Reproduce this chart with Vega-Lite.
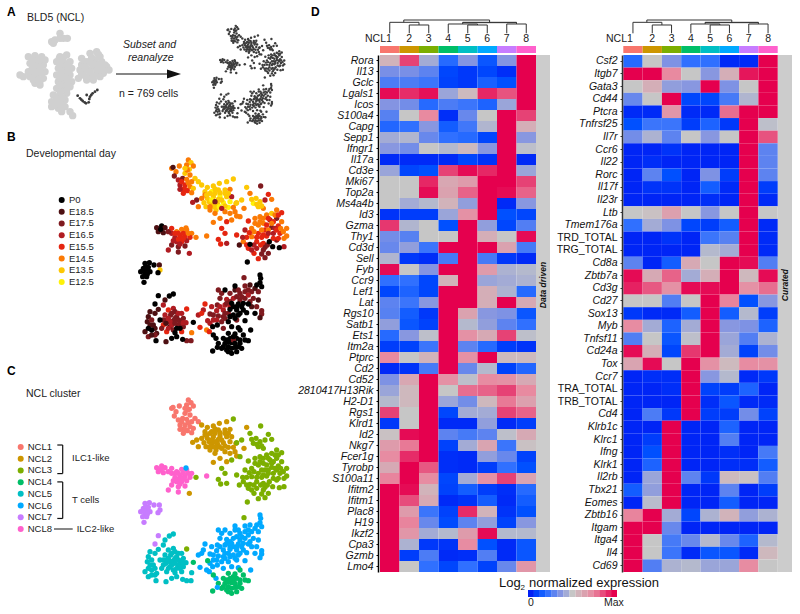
{"$schema":"https://vega.github.io/schema/vega-lite/v6.json","width":800,"height":614,"padding":0,"autosize":{"type":"none"},"background":"white","config":{"font":"Liberation Sans","view":{"stroke":null},"text":{"color":"#222"}},
"datasets":{
"bg":[{"x":125,"y":50,"k":"g"},{"x":135,"y":45,"k":"g"},{"x":150,"y":25,"k":"g"},{"x":150,"y":40,"k":"g"},{"x":160,"y":40,"k":"g"},{"x":172,"y":40,"k":"g"},{"x":130,"y":55,"k":"g"},{"x":30,"y":150,"k":"g"},{"x":40,"y":155,"k":"g"},{"x":55,"y":95,"k":"g"},{"x":75,"y":92,"k":"g"},{"x":95,"y":95,"k":"g"},{"x":105,"y":105,"k":"g"},{"x":60,"y":115,"k":"g"},{"x":80,"y":115,"k":"g"},{"x":100,"y":120,"k":"g"},{"x":65,"y":135,"k":"g"},{"x":85,"y":135,"k":"g"},{"x":105,"y":140,"k":"g"},{"x":60,"y":155,"k":"g"},{"x":80,"y":155,"k":"g"},{"x":100,"y":160,"k":"g"},{"x":75,"y":175,"k":"g"},{"x":90,"y":180,"k":"g"},{"x":55,"y":140,"k":"g"},{"x":150,"y":95,"k":"g"},{"x":170,"y":90,"k":"g"},{"x":140,"y":110,"k":"g"},{"x":160,"y":110,"k":"g"},{"x":180,"y":110,"k":"g"},{"x":145,"y":130,"k":"g"},{"x":165,"y":130,"k":"g"},{"x":185,"y":130,"k":"g"},{"x":140,"y":150,"k":"g"},{"x":160,"y":150,"k":"g"},{"x":180,"y":150,"k":"g"},{"x":145,"y":170,"k":"g"},{"x":165,"y":170,"k":"g"},{"x":185,"y":170,"k":"g"},{"x":140,"y":190,"k":"g"},{"x":160,"y":190,"k":"g"},{"x":180,"y":185,"k":"g"},{"x":130,"y":210,"k":"g"},{"x":150,"y":210,"k":"g"},{"x":170,"y":205,"k":"g"},{"x":125,"y":230,"k":"g"},{"x":145,"y":230,"k":"g"},{"x":165,"y":225,"k":"g"},{"x":125,"y":245,"k":"g"},{"x":145,"y":250,"k":"g"},{"x":165,"y":245,"k":"g"},{"x":155,"y":260,"k":"g"},{"x":180,"y":260,"k":"g"},{"x":188,"y":272,"k":"g"},{"x":215,"y":100,"k":"g"},{"x":240,"y":85,"k":"g"},{"x":260,"y":80,"k":"g"},{"x":270,"y":95,"k":"g"},{"x":215,"y":120,"k":"g"},{"x":235,"y":110,"k":"g"},{"x":255,"y":105,"k":"g"},{"x":275,"y":110,"k":"g"},{"x":210,"y":135,"k":"g"},{"x":230,"y":130,"k":"g"},{"x":250,"y":125,"k":"g"},{"x":270,"y":130,"k":"g"},{"x":290,"y":125,"k":"g"},{"x":297,"y":135,"k":"g"},{"x":220,"y":150,"k":"g"},{"x":240,"y":150,"k":"g"},{"x":260,"y":145,"k":"g"},{"x":280,"y":145,"k":"g"},{"x":230,"y":165,"k":"g"},{"x":250,"y":165,"k":"g"},{"x":205,"y":160,"k":"g"},{"x":70,"y":105,"k":"g"},{"x":90,"y":105,"k":"g"},{"x":70,"y":125,"k":"g"},{"x":90,"y":125,"k":"g"},{"x":75,"y":145,"k":"g"},{"x":95,"y":145,"k":"g"},{"x":70,"y":165,"k":"g"},{"x":90,"y":168,"k":"g"},{"x":150,"y":120,"k":"g"},{"x":170,"y":120,"k":"g"},{"x":155,"y":140,"k":"g"},{"x":175,"y":140,"k":"g"},{"x":150,"y":160,"k":"g"},{"x":170,"y":160,"k":"g"},{"x":150,"y":180,"k":"g"},{"x":170,"y":180,"k":"g"},{"x":150,"y":200,"k":"g"},{"x":170,"y":195,"k":"g"},{"x":140,"y":220,"k":"g"},{"x":158,"y":218,"k":"g"},{"x":135,"y":240,"k":"g"},{"x":155,"y":238,"k":"g"},{"x":148,"y":100,"k":"g"},{"x":160,"y":97,"k":"g"},{"x":225,"y":110,"k":"g"},{"x":245,"y":98,"k":"g"},{"x":265,"y":88,"k":"g"},{"x":225,"y":125,"k":"g"},{"x":245,"y":115,"k":"g"},{"x":265,"y":118,"k":"g"},{"x":285,"y":120,"k":"g"},{"x":220,"y":140,"k":"g"},{"x":240,"y":140,"k":"g"},{"x":260,"y":135,"k":"g"},{"x":280,"y":135,"k":"g"},{"x":230,"y":158,"k":"g"},{"x":250,"y":155,"k":"g"},{"x":270,"y":155,"k":"g"},{"x":215,"y":148,"k":"g"},{"x":203,"y":212,"k":"d"},{"x":210,"y":220,"k":"d"},{"x":218,"y":228,"k":"d"},{"x":228,"y":235,"k":"d"},{"x":236,"y":232,"k":"d"},{"x":240,"y":215,"k":"d"},{"x":248,"y":205,"k":"d"},{"x":255,"y":200,"k":"d"},{"x":262,"y":195,"k":"d"},{"x":230,"y":210,"k":"d"},{"x":214,"y":224,"k":"d"},{"x":224,"y":232,"k":"d"},{"x":238,"y":222,"k":"d"},{"x":244,"y":210,"k":"d"}],
"cells":[{"x":175,"y":30,"c":1,"d":"E14.5"},{"x":183,"y":38,"c":1,"d":"E13.5"},{"x":170,"y":45,"c":1,"d":"E14.5"},{"x":190,"y":48,"c":1,"d":"E14.5"},{"x":178,"y":58,"c":1,"d":"E13.5"},{"x":148,"y":48,"c":1,"d":"E14.5"},{"x":125,"y":55,"c":1,"d":"E14.5"},{"x":129,"y":52,"c":1,"d":"E18.5"},{"x":138,"y":65,"c":1,"d":"E14.5"},{"x":165,"y":70,"c":1,"d":"E13.5"},{"x":180,"y":75,"c":1,"d":"E14.5"},{"x":133,"y":78,"c":1,"d":"E17.5"},{"x":195,"y":85,"c":1,"d":"E13.5"},{"x":145,"y":90,"c":1,"d":"E16.5"},{"x":158,"y":85,"c":1,"d":"E17.5"},{"x":170,"y":88,"c":1,"d":"E14.5"},{"x":185,"y":95,"c":1,"d":"E14.5"},{"x":205,"y":95,"c":1,"d":"E13.5"},{"x":150,"y":105,"c":1,"d":"E16.5"},{"x":165,"y":105,"c":1,"d":"E15.5"},{"x":180,"y":110,"c":1,"d":"E14.5"},{"x":158,"y":118,"c":1,"d":"E15.5"},{"x":172,"y":122,"c":1,"d":"E15.5"},{"x":190,"y":115,"c":1,"d":"E13.5"},{"x":160,"y":130,"c":1,"d":"E15.5"},{"x":185,"y":128,"c":1,"d":"E14.5"},{"x":155,"y":95,"c":1,"d":"E15.5"},{"x":175,"y":98,"c":1,"d":"E14.5"},{"x":165,"y":118,"c":1,"d":"E15.5"},{"x":150,"y":118,"c":1,"d":"E16.5"},{"x":172,"y":60,"c":1,"d":"E14.5"},{"x":165,"y":55,"c":1,"d":"E13.5"},{"x":215,"y":105,"c":2,"d":"E13.5"},{"x":232,"y":112,"c":2,"d":"E13.5"},{"x":250,"y":108,"c":2,"d":"E13.5"},{"x":268,"y":100,"c":2,"d":"E13.5"},{"x":290,"y":95,"c":2,"d":"E13.5"},{"x":225,"y":125,"c":2,"d":"E13.5"},{"x":245,"y":125,"c":2,"d":"E12.5"},{"x":265,"y":120,"c":2,"d":"E13.5"},{"x":285,"y":120,"c":2,"d":"E13.5"},{"x":300,"y":118,"c":2,"d":"E14.5"},{"x":200,"y":150,"c":2,"d":"E17.5"},{"x":188,"y":157,"c":2,"d":"E16.5"},{"x":215,"y":145,"c":2,"d":"E14.5"},{"x":232,"y":145,"c":2,"d":"E13.5"},{"x":250,"y":140,"c":2,"d":"E13.5"},{"x":270,"y":138,"c":2,"d":"E12.5"},{"x":290,"y":140,"c":2,"d":"E13.5"},{"x":305,"y":140,"c":2,"d":"E16.5"},{"x":205,"y":170,"c":2,"d":"E14.5"},{"x":228,"y":170,"c":2,"d":"E13.5"},{"x":245,"y":160,"c":2,"d":"E13.5"},{"x":262,"y":160,"c":2,"d":"E13.5"},{"x":280,"y":158,"c":2,"d":"E12.5"},{"x":300,"y":155,"c":2,"d":"E12.5"},{"x":318,"y":160,"c":2,"d":"E13.5"},{"x":240,"y":180,"c":2,"d":"E14.5"},{"x":258,"y":180,"c":2,"d":"E13.5"},{"x":295,"y":172,"c":2,"d":"E12.5"},{"x":315,"y":185,"c":2,"d":"E14.5"},{"x":255,"y":190,"c":2,"d":"E14.5"},{"x":270,"y":205,"c":2,"d":"E14.5"},{"x":290,"y":215,"c":2,"d":"E15.5"},{"x":250,"y":217,"c":2,"d":"E14.5"},{"x":320,"y":198,"c":2,"d":"E14.5"},{"x":342,"y":175,"c":2,"d":"E14.5"},{"x":350,"y":112,"c":2,"d":"E13.5"},{"x":300,"y":190,"c":2,"d":"E14.5"},{"x":240,"y":130,"c":2,"d":"E13.5"},{"x":275,"y":150,"c":2,"d":"E13.5"},{"x":258,"y":170,"c":2,"d":"E13.5"},{"x":238,"y":155,"c":2,"d":"E13.5"},{"x":285,"y":130,"c":2,"d":"E13.5"},{"x":225,"y":135,"c":2,"d":"E14.5"},{"x":255,"y":130,"c":2,"d":"E13.5"},{"x":270,"y":128,"c":2,"d":"E13.5"},{"x":295,"y":130,"c":2,"d":"E13.5"},{"x":222,"y":158,"c":2,"d":"E13.5"},{"x":250,"y":170,"c":2,"d":"E13.5"},{"x":268,"y":170,"c":2,"d":"E12.5"},{"x":285,"y":168,"c":2,"d":"E13.5"},{"x":265,"y":148,"c":2,"d":"E13.5"},{"x":240,"y":170,"c":2,"d":"E14.5"},{"x":285,"y":185,"c":2,"d":"E14.5"},{"x":310,"y":172,"c":2,"d":"E14.5"},{"x":255,"y":117,"c":2,"d":"E13.5"},{"x":245,"y":150,"c":2,"d":"E12.5"},{"x":230,"y":135,"c":2,"d":"E13.5"},{"x":255,"y":155,"c":2,"d":"E17.5"},{"x":275,"y":175,"c":2,"d":"E16.5"},{"x":310,"y":87,"c":3,"d":"E13.5"},{"x":392,"y":108,"c":3,"d":"E17.5"},{"x":360,"y":130,"c":3,"d":"E14.5"},{"x":378,"y":145,"c":3,"d":"E13.5"},{"x":370,"y":160,"c":3,"d":"E12.5"},{"x":390,"y":155,"c":3,"d":"E13.5"},{"x":405,"y":150,"c":3,"d":"E16.5"},{"x":425,"y":148,"c":3,"d":"E14.5"},{"x":385,"y":170,"c":3,"d":"E13.5"},{"x":400,"y":175,"c":3,"d":"E14.5"},{"x":415,"y":133,"c":3,"d":"E15.5"},{"x":335,"y":150,"c":3,"d":"E13.5"},{"x":320,"y":158,"c":3,"d":"E13.5"},{"x":330,"y":200,"c":3,"d":"E14.5"},{"x":355,"y":213,"c":3,"d":"E15.5"},{"x":305,"y":210,"c":3,"d":"E14.5"},{"x":275,"y":235,"c":3,"d":"E15.5"},{"x":285,"y":250,"c":3,"d":"E15.5"},{"x":265,"y":268,"c":3,"d":"E15.5"},{"x":272,"y":282,"c":3,"d":"E15.5"},{"x":290,"y":280,"c":3,"d":"E16.5"},{"x":320,"y":255,"c":3,"d":"E15.5"},{"x":345,"y":240,"c":3,"d":"E16.5"},{"x":365,"y":235,"c":3,"d":"E14.5"},{"x":375,"y":205,"c":3,"d":"E14.5"},{"x":390,"y":200,"c":3,"d":"E14.5"},{"x":410,"y":195,"c":3,"d":"E14.5"},{"x":425,"y":190,"c":3,"d":"E13.5"},{"x":440,"y":180,"c":3,"d":"E14.5"},{"x":455,"y":188,"c":3,"d":"E15.5"},{"x":385,"y":225,"c":3,"d":"E14.5"},{"x":400,"y":220,"c":3,"d":"E14.5"},{"x":420,"y":210,"c":3,"d":"E16.5"},{"x":440,"y":205,"c":3,"d":"E17.5"},{"x":455,"y":215,"c":3,"d":"E14.5"},{"x":405,"y":240,"c":3,"d":"E15.5"},{"x":425,"y":232,"c":3,"d":"E17.5"},{"x":445,"y":228,"c":3,"d":"E15.5"},{"x":470,"y":235,"c":3,"d":"E14.5"},{"x":350,"y":262,"c":3,"d":"E15.5"},{"x":365,"y":260,"c":3,"d":"E14.5"},{"x":385,"y":250,"c":3,"d":"E15.5"},{"x":410,"y":258,"c":3,"d":"E15.5"},{"x":430,"y":250,"c":3,"d":"E16.5"},{"x":450,"y":250,"c":3,"d":"E15.5"},{"x":470,"y":258,"c":3,"d":"E14.5"},{"x":340,"y":275,"c":3,"d":"E14.5"},{"x":380,"y":275,"c":3,"d":"E15.5"},{"x":400,"y":280,"c":3,"d":"E15.5"},{"x":440,"y":270,"c":3,"d":"E17.5"},{"x":462,"y":265,"c":3,"d":"E14.5"},{"x":328,"y":285,"c":3,"d":"E18.5"},{"x":355,"y":295,"c":3,"d":"E15.5"},{"x":380,"y":295,"c":3,"d":"E16.5"},{"x":405,"y":292,"c":3,"d":"E17.5"},{"x":462,"y":290,"c":3,"d":"E16.5"},{"x":372,"y":310,"c":3,"d":"E15.5"},{"x":395,"y":312,"c":3,"d":"E17.5"},{"x":415,"y":310,"c":3,"d":"E17.5"},{"x":385,"y":326,"c":3,"d":"E15.5"},{"x":405,"y":323,"c":3,"d":"E17.5"},{"x":400,"y":205,"c":3,"d":"E14.5"},{"x":430,"y":215,"c":3,"d":"E15.5"},{"x":415,"y":240,"c":3,"d":"E14.5"},{"x":395,"y":262,"c":3,"d":"E15.5"},{"x":435,"y":235,"c":3,"d":"E16.5"},{"x":372,"y":245,"c":3,"d":"E14.5"},{"x":358,"y":248,"c":3,"d":"E15.5"},{"x":445,"y":265,"c":3,"d":"E15.5"},{"x":395,"y":240,"c":3,"d":"E14.5"},{"x":410,"y":225,"c":3,"d":"E15.5"},{"x":425,"y":220,"c":3,"d":"E14.5"},{"x":440,"y":240,"c":3,"d":"E15.5"},{"x":415,"y":250,"c":3,"d":"E16.5"},{"x":400,"y":255,"c":3,"d":"E15.5"},{"x":380,"y":262,"c":3,"d":"E15.5"},{"x":372,"y":285,"c":3,"d":"E16.5"},{"x":392,"y":285,"c":3,"d":"E15.5"},{"x":430,"y":265,"c":3,"d":"E15.5"},{"x":412,"y":285,"c":3,"d":"E17.5"},{"x":452,"y":235,"c":3,"d":"E14.5"},{"x":460,"y":245,"c":3,"d":"E14.5"},{"x":435,"y":195,"c":3,"d":"E14.5"},{"x":445,"y":195,"c":3,"d":"E15.5"},{"x":415,"y":205,"c":3,"d":"E15.5"},{"x":390,"y":215,"c":3,"d":"E14.5"},{"x":375,"y":220,"c":3,"d":"E14.5"},{"x":338,"y":262,"c":3,"d":"E16.5"},{"x":350,"y":285,"c":3,"d":"E15.5"},{"x":365,"y":300,"c":3,"d":"E16.5"},{"x":400,"y":300,"c":3,"d":"E17.5"},{"x":380,"y":163,"c":3,"d":"E13.5"},{"x":395,"y":168,"c":3,"d":"E13.5"},{"x":365,"y":148,"c":3,"d":"E13.5"},{"x":360,"y":283,"c":3,"d":"P0"},{"x":418,"y":275,"c":3,"d":"P0"},{"x":428,"y":290,"c":3,"d":"P0"},{"x":448,"y":293,"c":3,"d":"P0"},{"x":352,"y":336,"c":3,"d":"P0"},{"x":80,"y":233,"c":8,"d":"E18.5"},{"x":95,"y":228,"c":8,"d":"P0"},{"x":105,"y":233,"c":8,"d":"E18.5"},{"x":85,"y":245,"c":8,"d":"E18.5"},{"x":100,"y":248,"c":8,"d":"E18.5"},{"x":125,"y":235,"c":8,"d":"E15.5"},{"x":125,"y":250,"c":8,"d":"E16.5"},{"x":140,"y":245,"c":8,"d":"E14.5"},{"x":155,"y":238,"c":8,"d":"E14.5"},{"x":170,"y":240,"c":8,"d":"E14.5"},{"x":185,"y":250,"c":8,"d":"E14.5"},{"x":135,"y":262,"c":8,"d":"E16.5"},{"x":150,"y":258,"c":8,"d":"E15.5"},{"x":165,"y":258,"c":8,"d":"E15.5"},{"x":180,"y":262,"c":8,"d":"E15.5"},{"x":140,"y":275,"c":8,"d":"E16.5"},{"x":155,"y":275,"c":8,"d":"E15.5"},{"x":170,"y":272,"c":8,"d":"E16.5"},{"x":125,"y":285,"c":8,"d":"E17.5"},{"x":145,"y":290,"c":8,"d":"E17.5"},{"x":165,"y":288,"c":8,"d":"E17.5"},{"x":115,"y":300,"c":8,"d":"E16.5"},{"x":145,"y":306,"c":8,"d":"E17.5"},{"x":150,"y":265,"c":8,"d":"E15.5"},{"x":115,"y":245,"c":8,"d":"E17.5"},{"x":230,"y":258,"c":8,"d":"E14.5"},{"x":145,"y":250,"c":8,"d":"E15.5"},{"x":135,"y":250,"c":8,"d":"E15.5"},{"x":160,"y":250,"c":8,"d":"E15.5"},{"x":175,"y":250,"c":8,"d":"E14.5"},{"x":160,"y":265,"c":8,"d":"E15.5"},{"x":145,"y":268,"c":8,"d":"E15.5"},{"x":130,"y":272,"c":8,"d":"E16.5"},{"x":150,"y":282,"c":8,"d":"E16.5"},{"x":92,"y":238,"c":8,"d":"P0"},{"x":178,"y":310,"c":2,"d":"E16.5"},{"x":198,"y":262,"c":3,"d":"E14.5"},{"x":168,"y":234,"c":6,"d":"E14.5"},{"x":45,"y":340,"c":7,"d":"P0"},{"x":58,"y":338,"c":7,"d":"P0"},{"x":72,"y":345,"c":7,"d":"P0"},{"x":88,"y":345,"c":7,"d":"E18.5"},{"x":40,"y":355,"c":7,"d":"P0"},{"x":52,"y":358,"c":7,"d":"P0"},{"x":32,"y":365,"c":7,"d":"P0"},{"x":45,"y":370,"c":7,"d":"P0"},{"x":60,"y":365,"c":7,"d":"P0"},{"x":90,"y":360,"c":7,"d":"E13.5"},{"x":50,"y":380,"c":7,"d":"P0"},{"x":84,"y":368,"c":7,"d":"P0"},{"x":42,"y":397,"c":7,"d":"P0"},{"x":38,"y":380,"c":7,"d":"P0"},{"x":47,"y":350,"c":7,"d":"P0"},{"x":55,"y":352,"c":7,"d":"P0"},{"x":42,"y":362,"c":7,"d":"P0"},{"x":52,"y":372,"c":7,"d":"P0"},{"x":130,"y":432,"c":5,"d":"P0"},{"x":118,"y":438,"c":5,"d":"P0"},{"x":105,"y":450,"c":5,"d":"E18.5"},{"x":85,"y":437,"c":7,"d":"P0"},{"x":75,"y":462,"c":7,"d":"P0"},{"x":100,"y":465,"c":5,"d":"E16.5"},{"x":85,"y":478,"c":5,"d":"E18.5"},{"x":60,"y":485,"c":5,"d":"E18.5"},{"x":55,"y":500,"c":5,"d":"E18.5"},{"x":75,"y":490,"c":5,"d":"E18.5"},{"x":115,"y":480,"c":5,"d":"E15.5"},{"x":130,"y":475,"c":5,"d":"E16.5"},{"x":155,"y":490,"c":5,"d":"E16.5"},{"x":170,"y":477,"c":3,"d":"E15.5"},{"x":105,"y":495,"c":5,"d":"E16.5"},{"x":122,"y":495,"c":5,"d":"E17.5"},{"x":140,"y":500,"c":5,"d":"E17.5"},{"x":160,"y":505,"c":5,"d":"E17.5"},{"x":110,"y":510,"c":5,"d":"E16.5"},{"x":130,"y":512,"c":5,"d":"E17.5"},{"x":150,"y":520,"c":5,"d":"E16.5"},{"x":52,"y":515,"c":5,"d":"E18.5"},{"x":70,"y":525,"c":5,"d":"E18.5"},{"x":100,"y":525,"c":5,"d":"E15.5"},{"x":120,"y":530,"c":5,"d":"E18.5"},{"x":160,"y":530,"c":5,"d":"E17.5"},{"x":45,"y":545,"c":5,"d":"E18.5"},{"x":80,"y":550,"c":5,"d":"E18.5"},{"x":110,"y":545,"c":5,"d":"E15.5"},{"x":155,"y":545,"c":5,"d":"E15.5"},{"x":55,"y":560,"c":5,"d":"E17.5"},{"x":75,"y":555,"c":5,"d":"E17.5"},{"x":108,"y":575,"c":5,"d":"E18.5"},{"x":170,"y":572,"c":5,"d":"E17.5"},{"x":183,"y":572,"c":5,"d":"E17.5"},{"x":185,"y":548,"c":5,"d":"E14.5"},{"x":65,"y":510,"c":5,"d":"E17.5"},{"x":120,"y":515,"c":5,"d":"E16.5"},{"x":95,"y":535,"c":5,"d":"E17.5"},{"x":145,"y":510,"c":5,"d":"E17.5"},{"x":135,"y":485,"c":5,"d":"E17.5"},{"x":168,"y":518,"c":5,"d":"E16.5"},{"x":125,"y":490,"c":5,"d":"E17.5"},{"x":145,"y":490,"c":5,"d":"E16.5"},{"x":115,"y":505,"c":5,"d":"E16.5"},{"x":135,"y":505,"c":5,"d":"E17.5"},{"x":155,"y":512,"c":5,"d":"E17.5"},{"x":100,"y":510,"c":5,"d":"E17.5"},{"x":125,"y":525,"c":5,"d":"E16.5"},{"x":145,"y":525,"c":5,"d":"E17.5"},{"x":160,"y":518,"c":5,"d":"E16.5"},{"x":135,"y":520,"c":5,"d":"E17.5"},{"x":108,"y":520,"c":5,"d":"E18.5"},{"x":60,"y":525,"c":5,"d":"E18.5"},{"x":75,"y":535,"c":5,"d":"E18.5"},{"x":65,"y":555,"c":5,"d":"E18.5"},{"x":115,"y":535,"c":5,"d":"E16.5"},{"x":130,"y":540,"c":5,"d":"E17.5"},{"x":90,"y":510,"c":5,"d":"P0"},{"x":140,"y":535,"c":5,"d":"P0"},{"x":65,"y":540,"c":5,"d":"P0"},{"x":135,"y":548,"c":5,"d":"P0"},{"x":125,"y":565,"c":5,"d":"P0"},{"x":140,"y":560,"c":5,"d":"P0"},{"x":78,"y":572,"c":5,"d":"P0"},{"x":158,"y":568,"c":5,"d":"P0"},{"x":55,"y":535,"c":5,"d":"P0"},{"x":150,"y":535,"c":5,"d":"P0"},{"x":190,"y":517,"c":4,"d":"P0"},{"x":360,"y":405,"c":6,"d":"E18.5"},{"x":345,"y":408,"c":6,"d":"E17.5"},{"x":315,"y":420,"c":6,"d":"E18.5"},{"x":265,"y":420,"c":6,"d":"E17.5"},{"x":275,"y":430,"c":6,"d":"E17.5"},{"x":345,"y":425,"c":6,"d":"E17.5"},{"x":365,"y":425,"c":6,"d":"E17.5"},{"x":385,"y":425,"c":6,"d":"E17.5"},{"x":300,"y":430,"c":6,"d":"E17.5"},{"x":330,"y":430,"c":6,"d":"E17.5"},{"x":270,"y":445,"c":6,"d":"E17.5"},{"x":290,"y":448,"c":6,"d":"E16.5"},{"x":310,"y":445,"c":6,"d":"E16.5"},{"x":345,"y":445,"c":6,"d":"E17.5"},{"x":370,"y":445,"c":6,"d":"E17.5"},{"x":385,"y":450,"c":6,"d":"E18.5"},{"x":225,"y":462,"c":6,"d":"E15.5"},{"x":245,"y":470,"c":6,"d":"E16.5"},{"x":262,"y":465,"c":6,"d":"E17.5"},{"x":285,"y":465,"c":6,"d":"E16.5"},{"x":380,"y":470,"c":6,"d":"E17.5"},{"x":220,"y":480,"c":6,"d":"E16.5"},{"x":260,"y":482,"c":6,"d":"E16.5"},{"x":280,"y":480,"c":6,"d":"E16.5"},{"x":395,"y":482,"c":6,"d":"E17.5"},{"x":205,"y":495,"c":6,"d":"E16.5"},{"x":240,"y":492,"c":6,"d":"E17.5"},{"x":265,"y":498,"c":6,"d":"E17.5"},{"x":395,"y":492,"c":6,"d":"E17.5"},{"x":390,"y":503,"c":6,"d":"E18.5"},{"x":215,"y":490,"c":6,"d":"E15.5"},{"x":250,"y":510,"c":6,"d":"E16.5"},{"x":275,"y":515,"c":6,"d":"E17.5"},{"x":320,"y":510,"c":6,"d":"E17.5"},{"x":240,"y":520,"c":6,"d":"E16.5"},{"x":210,"y":532,"c":6,"d":"E15.5"},{"x":280,"y":535,"c":6,"d":"E17.5"},{"x":230,"y":540,"c":6,"d":"E14.5"},{"x":238,"y":545,"c":6,"d":"E15.5"},{"x":300,"y":455,"c":6,"d":"E17.5"},{"x":330,"y":450,"c":6,"d":"E17.5"},{"x":295,"y":490,"c":6,"d":"E17.5"},{"x":270,"y":470,"c":6,"d":"E16.5"},{"x":355,"y":435,"c":6,"d":"E16.5"},{"x":290,"y":460,"c":6,"d":"E17.5"},{"x":300,"y":470,"c":6,"d":"E16.5"},{"x":285,"y":490,"c":6,"d":"E17.5"},{"x":335,"y":440,"c":6,"d":"E17.5"},{"x":320,"y":440,"c":6,"d":"E17.5"},{"x":360,"y":455,"c":6,"d":"E17.5"},{"x":365,"y":470,"c":6,"d":"E18.5"},{"x":280,"y":500,"c":6,"d":"E17.5"},{"x":260,"y":510,"c":6,"d":"E16.5"},{"x":250,"y":495,"c":6,"d":"E17.5"},{"x":285,"y":505,"c":6,"d":"E17.5"},{"x":355,"y":420,"c":6,"d":"E17.5"},{"x":375,"y":415,"c":6,"d":"E18.5"},{"x":325,"y":420,"c":6,"d":"E17.5"},{"x":390,"y":375,"c":6,"d":"P0"},{"x":392,"y":385,"c":6,"d":"P0"},{"x":390,"y":398,"c":6,"d":"P0"},{"x":380,"y":405,"c":6,"d":"P0"},{"x":395,"y":410,"c":6,"d":"P0"},{"x":315,"y":408,"c":6,"d":"P0"},{"x":285,"y":420,"c":6,"d":"P0"},{"x":305,"y":460,"c":6,"d":"P0"},{"x":325,"y":462,"c":6,"d":"P0"},{"x":355,"y":462,"c":6,"d":"P0"},{"x":300,"y":478,"c":6,"d":"P0"},{"x":320,"y":480,"c":6,"d":"P0"},{"x":340,"y":480,"c":6,"d":"P0"},{"x":310,"y":495,"c":6,"d":"P0"},{"x":350,"y":488,"c":6,"d":"P0"},{"x":375,"y":490,"c":6,"d":"P0"},{"x":295,"y":515,"c":6,"d":"P0"},{"x":345,"y":512,"c":6,"d":"P0"},{"x":262,"y":525,"c":6,"d":"P0"},{"x":305,"y":530,"c":6,"d":"P0"},{"x":325,"y":533,"c":6,"d":"P0"},{"x":362,"y":540,"c":6,"d":"P0"},{"x":248,"y":530,"c":6,"d":"P0"},{"x":258,"y":565,"c":6,"d":"P0"},{"x":325,"y":495,"c":6,"d":"P0"},{"x":310,"y":470,"c":6,"d":"P0"},{"x":320,"y":470,"c":6,"d":"P0"},{"x":335,"y":470,"c":6,"d":"P0"},{"x":300,"y":500,"c":6,"d":"P0"},{"x":315,"y":505,"c":6,"d":"P0"},{"x":330,"y":490,"c":6,"d":"P0"},{"x":340,"y":460,"c":6,"d":"P0"},{"x":342,"y":383,"c":3,"d":"E17.5"},{"x":233,"y":512,"c":4,"d":"E16.5"},{"x":330,"y":540,"c":4,"d":"P0"},{"x":315,"y":552,"c":4,"d":"P0"},{"x":340,"y":555,"c":4,"d":"P0"},{"x":295,"y":550,"c":4,"d":"P0"},{"x":280,"y":565,"c":4,"d":"P0"},{"x":300,"y":565,"c":4,"d":"P0"},{"x":320,"y":565,"c":4,"d":"P0"},{"x":345,"y":570,"c":4,"d":"P0"},{"x":355,"y":572,"c":4,"d":"P0"},{"x":265,"y":580,"c":4,"d":"P0"},{"x":285,"y":580,"c":4,"d":"P0"},{"x":305,"y":578,"c":4,"d":"P0"},{"x":330,"y":580,"c":4,"d":"P0"},{"x":275,"y":595,"c":4,"d":"P0"},{"x":295,"y":590,"c":4,"d":"P0"},{"x":315,"y":592,"c":4,"d":"P0"},{"x":335,"y":595,"c":4,"d":"P0"},{"x":248,"y":603,"c":4,"d":"P0"},{"x":295,"y":605,"c":4,"d":"P0"},{"x":305,"y":610,"c":4,"d":"P0"},{"x":320,"y":605,"c":4,"d":"P0"},{"x":262,"y":592,"c":6,"d":"P0"},{"x":250,"y":555,"c":4,"d":"P0"},{"x":290,"y":570,"c":4,"d":"P0"},{"x":310,"y":570,"c":4,"d":"E17.5"},{"x":310,"y":560,"c":4,"d":"P0"},{"x":330,"y":570,"c":4,"d":"P0"},{"x":295,"y":575,"c":4,"d":"P0"},{"x":315,"y":580,"c":4,"d":"P0"},{"x":280,"y":590,"c":4,"d":"P0"},{"x":305,"y":595,"c":4,"d":"P0"},{"x":325,"y":590,"c":4,"d":"P0"},{"x":290,"y":600,"c":4,"d":"P0"}],
"den":[{"a":1.72,"b":6.12,"h":40,"k":40},{"a":1.72,"b":1.72,"h":40,"k":33},{"a":1,"b":2.5,"h":33,"k":33},{"a":1,"b":1,"h":33,"k":0},{"a":2.5,"b":2.5,"h":33,"k":25},{"a":2,"b":3,"h":25,"k":25},{"a":2,"b":2,"h":25,"k":0},{"a":3,"b":3,"h":25,"k":0},{"a":6.12,"b":6.12,"h":40,"k":33},{"a":4.74,"b":7.5,"h":33,"k":33},{"a":4.74,"b":7.5,"h":32,"k":32},{"a":4.74,"b":4.74,"h":33,"k":28},{"a":4,"b":5.5,"h":28,"k":28},{"a":4,"b":4,"h":28,"k":0},{"a":5.5,"b":5.5,"h":28,"k":25},{"a":5,"b":6,"h":25,"k":25},{"a":5,"b":5,"h":25,"k":0},{"a":6,"b":6,"h":25,"k":0},{"a":7.5,"b":7.5,"h":33,"k":28},{"a":7,"b":8,"h":28,"k":28},{"a":7,"b":7,"h":28,"k":0},{"a":8,"b":8,"h":28,"k":0}],
"cl":[{"c":1,"lab":"NCL1"},{"c":2,"lab":"NCL2"},{"c":3,"lab":"NCL3"},{"c":4,"lab":"NCL4"},{"c":5,"lab":"NCL5"},{"c":6,"lab":"NCL6"},{"c":7,"lab":"NCL7"},{"c":8,"lab":"NCL8"}],
"days":[{"d":"P0"},{"d":"E18.5"},{"d":"E17.5"},{"d":"E16.5"},{"d":"E15.5"},{"d":"E14.5"},{"d":"E13.5"},{"d":"E12.5"}],
"h1":[{"g":"Rora","c":1,"v":0.58},{"g":"Rora","c":2,"v":0.88},{"g":"Rora","c":3,"v":0.42},{"g":"Rora","c":4,"v":0.18},{"g":"Rora","c":5,"v":0.35},{"g":"Rora","c":6,"v":0.12},{"g":"Rora","c":7,"v":0.35},{"g":"Rora","c":8,"v":1},{"g":"Il13","c":1,"v":0.33},{"g":"Il13","c":2,"v":0.33},{"g":"Il13","c":3,"v":0.28},{"g":"Il13","c":4,"v":0.08},{"g":"Il13","c":5,"v":0.05},{"g":"Il13","c":6,"v":0.08},{"g":"Il13","c":7,"v":0.03},{"g":"Il13","c":8,"v":1},{"g":"Gclc","c":1,"v":0.25},{"g":"Gclc","c":2,"v":0.25},{"g":"Gclc","c":3,"v":0.22},{"g":"Gclc","c":4,"v":0.07},{"g":"Gclc","c":5,"v":0.05},{"g":"Gclc","c":6,"v":0.15},{"g":"Gclc","c":7,"v":0.1},{"g":"Gclc","c":8,"v":1},{"g":"Lgals1","c":1,"v":0.98},{"g":"Lgals1","c":2,"v":0.92},{"g":"Lgals1","c":3,"v":0.97},{"g":"Lgals1","c":4,"v":0.4},{"g":"Lgals1","c":5,"v":0.55},{"g":"Lgals1","c":6,"v":0.93},{"g":"Lgals1","c":7,"v":0.85},{"g":"Lgals1","c":8,"v":1},{"g":"Icos","c":1,"v":0.35},{"g":"Icos","c":2,"v":0.32},{"g":"Icos","c":3,"v":0.18},{"g":"Icos","c":4,"v":0.25},{"g":"Icos","c":5,"v":0.22},{"g":"Icos","c":6,"v":0.16},{"g":"Icos","c":7,"v":0.4},{"g":"Icos","c":8,"v":1},{"g":"S100a4","c":1,"v":0.27},{"g":"S100a4","c":2,"v":0.5},{"g":"S100a4","c":3,"v":0.75},{"g":"S100a4","c":4,"v":0.03},{"g":"S100a4","c":5,"v":0.3},{"g":"S100a4","c":6,"v":0.5},{"g":"S100a4","c":7,"v":1},{"g":"S100a4","c":8,"v":0.88},{"g":"Capg","c":1,"v":0.17},{"g":"Capg","c":2,"v":0.2},{"g":"Capg","c":3,"v":0.36},{"g":"Capg","c":4,"v":0.14},{"g":"Capg","c":5,"v":0.23},{"g":"Capg","c":6,"v":0.45},{"g":"Capg","c":7,"v":1},{"g":"Capg","c":8,"v":0.6},{"g":"Sepp1","c":1,"v":0.42},{"g":"Sepp1","c":2,"v":0.45},{"g":"Sepp1","c":3,"v":0.3},{"g":"Sepp1","c":4,"v":0.2},{"g":"Sepp1","c":5,"v":0.18},{"g":"Sepp1","c":6,"v":0.08},{"g":"Sepp1","c":7,"v":1},{"g":"Sepp1","c":8,"v":0.36},{"g":"Ifngr1","c":1,"v":0.36},{"g":"Ifngr1","c":2,"v":0.32},{"g":"Ifngr1","c":3,"v":0.5},{"g":"Ifngr1","c":4,"v":0.46},{"g":"Ifngr1","c":5,"v":0.55},{"g":"Ifngr1","c":6,"v":0.36},{"g":"Ifngr1","c":7,"v":1},{"g":"Ifngr1","c":8,"v":0.48},{"g":"Il17a","c":1,"v":0.02},{"g":"Il17a","c":2,"v":0.02},{"g":"Il17a","c":3,"v":0.02},{"g":"Il17a","c":4,"v":0.02},{"g":"Il17a","c":5,"v":0.08},{"g":"Il17a","c":6,"v":0.04},{"g":"Il17a","c":7,"v":1},{"g":"Il17a","c":8,"v":0.02},{"g":"Cd3e","c":1,"v":0.4},{"g":"Cd3e","c":2,"v":0.08},{"g":"Cd3e","c":3,"v":0.1},{"g":"Cd3e","c":4,"v":0.88},{"g":"Cd3e","c":5,"v":0.98},{"g":"Cd3e","c":6,"v":0.93},{"g":"Cd3e","c":7,"v":1},{"g":"Cd3e","c":8,"v":0.4},{"g":"Mki67","c":1,"v":0.5},{"g":"Mki67","c":2,"v":0.5},{"g":"Mki67","c":3,"v":0.93},{"g":"Mki67","c":4,"v":0.63},{"g":"Mki67","c":5,"v":0.68},{"g":"Mki67","c":6,"v":1},{"g":"Mki67","c":7,"v":1},{"g":"Mki67","c":8,"v":0.88},{"g":"Top2a","c":1,"v":0.5},{"g":"Top2a","c":2,"v":0.5},{"g":"Top2a","c":3,"v":0.98},{"g":"Top2a","c":4,"v":0.65},{"g":"Top2a","c":5,"v":0.82},{"g":"Top2a","c":6,"v":1},{"g":"Top2a","c":7,"v":0.98},{"g":"Top2a","c":8,"v":0.82},{"g":"Ms4a4b","c":1,"v":0.5},{"g":"Ms4a4b","c":2,"v":0.42},{"g":"Ms4a4b","c":3,"v":0.46},{"g":"Ms4a4b","c":4,"v":0.58},{"g":"Ms4a4b","c":5,"v":0.38},{"g":"Ms4a4b","c":6,"v":1},{"g":"Ms4a4b","c":7,"v":0.02},{"g":"Ms4a4b","c":8,"v":0.36},{"g":"Id3","c":1,"v":0.04},{"g":"Id3","c":2,"v":0.06},{"g":"Id3","c":3,"v":0.06},{"g":"Id3","c":4,"v":0.4},{"g":"Id3","c":5,"v":0.72},{"g":"Id3","c":6,"v":1},{"g":"Id3","c":7,"v":0.1},{"g":"Id3","c":8,"v":0.08},{"g":"Gzma","c":1,"v":0.9},{"g":"Gzma","c":2,"v":0.45},{"g":"Gzma","c":3,"v":0.5},{"g":"Gzma","c":4,"v":0.1},{"g":"Gzma","c":5,"v":1},{"g":"Gzma","c":6,"v":0.38},{"g":"Gzma","c":7,"v":0.08},{"g":"Gzma","c":8,"v":0.26},{"g":"Thy1","c":1,"v":0.32},{"g":"Thy1","c":2,"v":0.27},{"g":"Thy1","c":3,"v":0.5},{"g":"Thy1","c":4,"v":0.5},{"g":"Thy1","c":5,"v":1},{"g":"Thy1","c":6,"v":0.6},{"g":"Thy1","c":7,"v":0.5},{"g":"Thy1","c":8,"v":0.98},{"g":"Cd3d","c":1,"v":0.3},{"g":"Cd3d","c":2,"v":0.38},{"g":"Cd3d","c":3,"v":0.22},{"g":"Cd3d","c":4,"v":1},{"g":"Cd3d","c":5,"v":1},{"g":"Cd3d","c":6,"v":1},{"g":"Cd3d","c":7,"v":0.65},{"g":"Cd3d","c":8,"v":0.24},{"g":"Sell","c":1,"v":0.45},{"g":"Sell","c":2,"v":0.05},{"g":"Sell","c":3,"v":0.03},{"g":"Sell","c":4,"v":0.24},{"g":"Sell","c":5,"v":1},{"g":"Sell","c":6,"v":0.24},{"g":"Sell","c":7,"v":0.05},{"g":"Sell","c":8,"v":0.02},{"g":"Fyb","c":1,"v":0.98},{"g":"Fyb","c":2,"v":0.5},{"g":"Fyb","c":3,"v":0.35},{"g":"Fyb","c":4,"v":1},{"g":"Fyb","c":5,"v":1},{"g":"Fyb","c":6,"v":0.68},{"g":"Fyb","c":7,"v":0.44},{"g":"Fyb","c":8,"v":0.46},{"g":"Ccr9","c":1,"v":0.2},{"g":"Ccr9","c":2,"v":0.2},{"g":"Ccr9","c":3,"v":0.08},{"g":"Ccr9","c":4,"v":0.58},{"g":"Ccr9","c":5,"v":1},{"g":"Ccr9","c":6,"v":0.4},{"g":"Ccr9","c":7,"v":0.42},{"g":"Ccr9","c":8,"v":0.44},{"g":"Lef1","c":1,"v":0.08},{"g":"Lef1","c":2,"v":0.16},{"g":"Lef1","c":3,"v":0.08},{"g":"Lef1","c":4,"v":1},{"g":"Lef1","c":5,"v":1},{"g":"Lef1","c":6,"v":0.6},{"g":"Lef1","c":7,"v":0.44},{"g":"Lef1","c":8,"v":0.18},{"g":"Lat","c":1,"v":0.28},{"g":"Lat","c":2,"v":0.22},{"g":"Lat","c":3,"v":0.36},{"g":"Lat","c":4,"v":1},{"g":"Lat","c":5,"v":1},{"g":"Lat","c":6,"v":0.6},{"g":"Lat","c":7,"v":1},{"g":"Lat","c":8,"v":0.62},{"g":"Rgs10","c":1,"v":0.27},{"g":"Rgs10","c":2,"v":0.14},{"g":"Rgs10","c":3,"v":0.05},{"g":"Rgs10","c":4,"v":1},{"g":"Rgs10","c":5,"v":0.65},{"g":"Rgs10","c":6,"v":0.36},{"g":"Rgs10","c":7,"v":0.34},{"g":"Rgs10","c":8,"v":0.12},{"g":"Satb1","c":1,"v":0.38},{"g":"Satb1","c":2,"v":0.12},{"g":"Satb1","c":3,"v":0.07},{"g":"Satb1","c":4,"v":1},{"g":"Satb1","c":5,"v":0.46},{"g":"Satb1","c":6,"v":0.38},{"g":"Satb1","c":7,"v":0.28},{"g":"Satb1","c":8,"v":0.2},{"g":"Ets1","c":1,"v":0.18},{"g":"Ets1","c":2,"v":0.36},{"g":"Ets1","c":3,"v":0.48},{"g":"Ets1","c":4,"v":1},{"g":"Ets1","c":5,"v":0.72},{"g":"Ets1","c":6,"v":0.62},{"g":"Ets1","c":7,"v":0.88},{"g":"Ets1","c":8,"v":0.48},{"g":"Itm2a","c":1,"v":0.06},{"g":"Itm2a","c":2,"v":0.07},{"g":"Itm2a","c":3,"v":0.22},{"g":"Itm2a","c":4,"v":1},{"g":"Itm2a","c":5,"v":0.28},{"g":"Itm2a","c":6,"v":0.18},{"g":"Itm2a","c":7,"v":0.06},{"g":"Itm2a","c":8,"v":0.04},{"g":"Ptprc","c":1,"v":0.75},{"g":"Ptprc","c":2,"v":0.5},{"g":"Ptprc","c":3,"v":0.58},{"g":"Ptprc","c":4,"v":1},{"g":"Ptprc","c":5,"v":0.72},{"g":"Ptprc","c":6,"v":1},{"g":"Ptprc","c":7,"v":0.55},{"g":"Ptprc","c":8,"v":0.55},{"g":"Cd2","c":1,"v":0.02},{"g":"Cd2","c":2,"v":0.04},{"g":"Cd2","c":3,"v":0.24},{"g":"Cd2","c":4,"v":1},{"g":"Cd2","c":5,"v":0.3},{"g":"Cd2","c":6,"v":0.46},{"g":"Cd2","c":7,"v":0.07},{"g":"Cd2","c":8,"v":0.17},{"g":"Cd52","c":1,"v":0.34},{"g":"Cd52","c":2,"v":0.63},{"g":"Cd52","c":3,"v":1},{"g":"Cd52","c":4,"v":0.72},{"g":"Cd52","c":5,"v":0.48},{"g":"Cd52","c":6,"v":0.74},{"g":"Cd52","c":7,"v":0.72},{"g":"Cd52","c":8,"v":0.62},{"g":"2810417H13Rik","c":1,"v":0.4},{"g":"2810417H13Rik","c":2,"v":0.56},{"g":"2810417H13Rik","c":3,"v":1},{"g":"2810417H13Rik","c":4,"v":0.5},{"g":"2810417H13Rik","c":5,"v":0.8},{"g":"2810417H13Rik","c":6,"v":0.82},{"g":"2810417H13Rik","c":7,"v":0.88},{"g":"2810417H13Rik","c":8,"v":0.75},{"g":"H2-D1","c":1,"v":0.46},{"g":"H2-D1","c":2,"v":0.56},{"g":"H2-D1","c":3,"v":1},{"g":"H2-D1","c":4,"v":0.4},{"g":"H2-D1","c":5,"v":0.32},{"g":"H2-D1","c":6,"v":0.56},{"g":"H2-D1","c":7,"v":0.78},{"g":"H2-D1","c":8,"v":0.66},{"g":"Rgs1","c":1,"v":0.88},{"g":"Rgs1","c":2,"v":0.5},{"g":"Rgs1","c":3,"v":1},{"g":"Rgs1","c":4,"v":0.08},{"g":"Rgs1","c":5,"v":0.42},{"g":"Rgs1","c":6,"v":0.42},{"g":"Rgs1","c":7,"v":0.88},{"g":"Rgs1","c":8,"v":0.82},{"g":"Klrd1","c":1,"v":0.05},{"g":"Klrd1","c":2,"v":0.5},{"g":"Klrd1","c":3,"v":1},{"g":"Klrd1","c":4,"v":0.02},{"g":"Klrd1","c":5,"v":0.02},{"g":"Klrd1","c":6,"v":0.38},{"g":"Klrd1","c":7,"v":0.02},{"g":"Klrd1","c":8,"v":0.06},{"g":"Id2","c":1,"v":0.52},{"g":"Id2","c":2,"v":0.98},{"g":"Id2","c":3,"v":1},{"g":"Id2","c":4,"v":0.28},{"g":"Id2","c":5,"v":0.24},{"g":"Id2","c":6,"v":0.28},{"g":"Id2","c":7,"v":0.48},{"g":"Id2","c":8,"v":0.62},{"g":"Nkg7","c":1,"v":0.68},{"g":"Nkg7","c":2,"v":0.78},{"g":"Nkg7","c":3,"v":1},{"g":"Nkg7","c":4,"v":0.07},{"g":"Nkg7","c":5,"v":0.42},{"g":"Nkg7","c":6,"v":0.64},{"g":"Nkg7","c":7,"v":0.22},{"g":"Nkg7","c":8,"v":0.52},{"g":"Fcer1g","c":1,"v":0.74},{"g":"Fcer1g","c":2,"v":0.92},{"g":"Fcer1g","c":3,"v":1},{"g":"Fcer1g","c":4,"v":0.03},{"g":"Fcer1g","c":5,"v":0.02},{"g":"Fcer1g","c":6,"v":0.38},{"g":"Fcer1g","c":7,"v":0.3},{"g":"Fcer1g","c":8,"v":0.07},{"g":"Tyrobp","c":1,"v":0.62},{"g":"Tyrobp","c":2,"v":1},{"g":"Tyrobp","c":3,"v":0.84},{"g":"Tyrobp","c":4,"v":0.03},{"g":"Tyrobp","c":5,"v":0.02},{"g":"Tyrobp","c":6,"v":0.06},{"g":"Tyrobp","c":7,"v":0.2},{"g":"Tyrobp","c":8,"v":0.1},{"g":"S100a11","c":1,"v":0.76},{"g":"S100a11","c":2,"v":1},{"g":"S100a11","c":3,"v":0.74},{"g":"S100a11","c":4,"v":0.08},{"g":"S100a11","c":5,"v":0.42},{"g":"S100a11","c":6,"v":0.72},{"g":"S100a11","c":7,"v":0.88},{"g":"S100a11","c":8,"v":0.64},{"g":"Ifitm2","c":1,"v":1},{"g":"Ifitm2","c":2,"v":0.98},{"g":"Ifitm2","c":3,"v":0.58},{"g":"Ifitm2","c":4,"v":0.07},{"g":"Ifitm2","c":5,"v":0.14},{"g":"Ifitm2","c":6,"v":0.06},{"g":"Ifitm2","c":7,"v":0.03},{"g":"Ifitm2","c":8,"v":0.18},{"g":"Ifitm1","c":1,"v":1},{"g":"Ifitm1","c":2,"v":0.86},{"g":"Ifitm1","c":3,"v":0.62},{"g":"Ifitm1","c":4,"v":0.02},{"g":"Ifitm1","c":5,"v":0.04},{"g":"Ifitm1","c":6,"v":0.14},{"g":"Ifitm1","c":7,"v":0.02},{"g":"Ifitm1","c":8,"v":0.14},{"g":"Plac8","c":1,"v":1},{"g":"Plac8","c":2,"v":0.68},{"g":"Plac8","c":3,"v":0.22},{"g":"Plac8","c":4,"v":0.07},{"g":"Plac8","c":5,"v":0.92},{"g":"Plac8","c":6,"v":0.58},{"g":"Plac8","c":7,"v":0.04},{"g":"Plac8","c":8,"v":0.1},{"g":"H19","c":1,"v":1},{"g":"H19","c":2,"v":0.76},{"g":"H19","c":3,"v":0.3},{"g":"H19","c":4,"v":0.09},{"g":"H19","c":5,"v":0.28},{"g":"H19","c":6,"v":0.38},{"g":"H19","c":7,"v":0.07},{"g":"H19","c":8,"v":0.36},{"g":"Ikzf2","c":1,"v":1},{"g":"Ikzf2","c":2,"v":0.7},{"g":"Ikzf2","c":3,"v":0.42},{"g":"Ikzf2","c":4,"v":0.46},{"g":"Ikzf2","c":5,"v":0.68},{"g":"Ikzf2","c":6,"v":0.98},{"g":"Ikzf2","c":7,"v":0.46},{"g":"Ikzf2","c":8,"v":0.46},{"g":"Cpa3","c":1,"v":1},{"g":"Cpa3","c":2,"v":0.44},{"g":"Cpa3","c":3,"v":0.05},{"g":"Cpa3","c":4,"v":0.04},{"g":"Cpa3","c":5,"v":0.74},{"g":"Cpa3","c":6,"v":0.1},{"g":"Cpa3","c":7,"v":0.02},{"g":"Cpa3","c":8,"v":0.12},{"g":"Gzmb","c":1,"v":1},{"g":"Gzmb","c":2,"v":0.06},{"g":"Gzmb","c":3,"v":0.25},{"g":"Gzmb","c":4,"v":0.02},{"g":"Gzmb","c":5,"v":0.03},{"g":"Gzmb","c":6,"v":0.26},{"g":"Gzmb","c":7,"v":0.02},{"g":"Gzmb","c":8,"v":0.12},{"g":"Lmo4","c":1,"v":1},{"g":"Lmo4","c":2,"v":0.5},{"g":"Lmo4","c":3,"v":0.2},{"g":"Lmo4","c":4,"v":0.08},{"g":"Lmo4","c":5,"v":0.2},{"g":"Lmo4","c":6,"v":0.07},{"g":"Lmo4","c":7,"v":0.3},{"g":"Lmo4","c":8,"v":0.7}],
"h2":[{"g":"Csf2","c":1,"v":0.18},{"g":"Csf2","c":2,"v":0.5},{"g":"Csf2","c":3,"v":0.34},{"g":"Csf2","c":4,"v":0.2},{"g":"Csf2","c":5,"v":0.2},{"g":"Csf2","c":6,"v":0.02},{"g":"Csf2","c":7,"v":0.02},{"g":"Csf2","c":8,"v":1},{"g":"Itgb7","c":1,"v":1},{"g":"Itgb7","c":2,"v":1},{"g":"Itgb7","c":3,"v":0.75},{"g":"Itgb7","c":4,"v":0.5},{"g":"Itgb7","c":5,"v":0.36},{"g":"Itgb7","c":6,"v":0.6},{"g":"Itgb7","c":7,"v":0.96},{"g":"Itgb7","c":8,"v":1},{"g":"Gata3","c":1,"v":0.5},{"g":"Gata3","c":2,"v":0.6},{"g":"Gata3","c":3,"v":0.38},{"g":"Gata3","c":4,"v":0.36},{"g":"Gata3","c":5,"v":1},{"g":"Gata3","c":6,"v":0.34},{"g":"Gata3","c":7,"v":0.5},{"g":"Gata3","c":8,"v":1},{"g":"Cd44","c":1,"v":0.3},{"g":"Cd44","c":2,"v":0.5},{"g":"Cd44","c":3,"v":1},{"g":"Cd44","c":4,"v":0.08},{"g":"Cd44","c":5,"v":0.08},{"g":"Cd44","c":6,"v":0.24},{"g":"Cd44","c":7,"v":0.45},{"g":"Cd44","c":8,"v":1},{"g":"Ptcra","c":1,"v":0.02},{"g":"Ptcra","c":2,"v":0.02},{"g":"Ptcra","c":3,"v":0.7},{"g":"Ptcra","c":4,"v":0.02},{"g":"Ptcra","c":5,"v":0.02},{"g":"Ptcra","c":6,"v":0.8},{"g":"Ptcra","c":7,"v":1},{"g":"Ptcra","c":8,"v":1},{"g":"Tnfrsf25","c":1,"v":0.1},{"g":"Tnfrsf25","c":2,"v":0.22},{"g":"Tnfrsf25","c":3,"v":0.22},{"g":"Tnfrsf25","c":4,"v":0.06},{"g":"Tnfrsf25","c":5,"v":0.16},{"g":"Tnfrsf25","c":6,"v":0.05},{"g":"Tnfrsf25","c":7,"v":1},{"g":"Tnfrsf25","c":8,"v":0.48},{"g":"Il7r","c":1,"v":0.32},{"g":"Il7r","c":2,"v":0.44},{"g":"Il7r","c":3,"v":0.28},{"g":"Il7r","c":4,"v":0.5},{"g":"Il7r","c":5,"v":0.36},{"g":"Il7r","c":6,"v":0.5},{"g":"Il7r","c":7,"v":1},{"g":"Il7r","c":8,"v":0.85},{"g":"Ccr6","c":1,"v":0.01},{"g":"Ccr6","c":2,"v":0.01},{"g":"Ccr6","c":3,"v":0.04},{"g":"Ccr6","c":4,"v":0.01},{"g":"Ccr6","c":5,"v":0.01},{"g":"Ccr6","c":6,"v":0.01},{"g":"Ccr6","c":7,"v":1},{"g":"Ccr6","c":8,"v":0.28},{"g":"Il22","c":1,"v":0.01},{"g":"Il22","c":2,"v":0.03},{"g":"Il22","c":3,"v":0.01},{"g":"Il22","c":4,"v":0.01},{"g":"Il22","c":5,"v":0.01},{"g":"Il22","c":6,"v":0.01},{"g":"Il22","c":7,"v":1},{"g":"Il22","c":8,"v":0.28},{"g":"Rorc","c":1,"v":0.01},{"g":"Rorc","c":2,"v":0.28},{"g":"Rorc","c":3,"v":0.1},{"g":"Rorc","c":4,"v":0.01},{"g":"Rorc","c":5,"v":0.34},{"g":"Rorc","c":6,"v":0.06},{"g":"Rorc","c":7,"v":1},{"g":"Rorc","c":8,"v":0.28},{"g":"Il17f","c":1,"v":0.01},{"g":"Il17f","c":2,"v":0.04},{"g":"Il17f","c":3,"v":0.04},{"g":"Il17f","c":4,"v":0.01},{"g":"Il17f","c":5,"v":0.14},{"g":"Il17f","c":6,"v":0.02},{"g":"Il17f","c":7,"v":1},{"g":"Il17f","c":8,"v":0.06},{"g":"Il23r","c":1,"v":0.01},{"g":"Il23r","c":2,"v":0.01},{"g":"Il23r","c":3,"v":0.01},{"g":"Il23r","c":4,"v":0.01},{"g":"Il23r","c":5,"v":0.03},{"g":"Il23r","c":6,"v":0.01},{"g":"Il23r","c":7,"v":1},{"g":"Il23r","c":8,"v":0.02},{"g":"Ltb","c":1,"v":0.5},{"g":"Ltb","c":2,"v":0.52},{"g":"Ltb","c":3,"v":0.66},{"g":"Ltb","c":4,"v":0.5},{"g":"Ltb","c":5,"v":0.36},{"g":"Ltb","c":6,"v":0.5},{"g":"Ltb","c":7,"v":1},{"g":"Ltb","c":8,"v":0.5},{"g":"Tmem176a","c":1,"v":0.2},{"g":"Tmem176a","c":2,"v":0.42},{"g":"Tmem176a","c":3,"v":0.34},{"g":"Tmem176a","c":4,"v":0.08},{"g":"Tmem176a","c":5,"v":0.06},{"g":"Tmem176a","c":6,"v":0.14},{"g":"Tmem176a","c":7,"v":1},{"g":"Tmem176a","c":8,"v":0.02},{"g":"TRD_TOTAL","c":1,"v":0.01},{"g":"TRD_TOTAL","c":2,"v":0.01},{"g":"TRD_TOTAL","c":3,"v":0.04},{"g":"TRD_TOTAL","c":4,"v":0.01},{"g":"TRD_TOTAL","c":5,"v":0.22},{"g":"TRD_TOTAL","c":6,"v":0.27},{"g":"TRD_TOTAL","c":7,"v":1},{"g":"TRD_TOTAL","c":8,"v":0.02},{"g":"TRG_TOTAL","c":1,"v":0.01},{"g":"TRG_TOTAL","c":2,"v":0.01},{"g":"TRG_TOTAL","c":3,"v":0.01},{"g":"TRG_TOTAL","c":4,"v":0.01},{"g":"TRG_TOTAL","c":5,"v":0.46},{"g":"TRG_TOTAL","c":6,"v":0.42},{"g":"TRG_TOTAL","c":7,"v":1},{"g":"TRG_TOTAL","c":8,"v":0.02},{"g":"Cd8a","c":1,"v":0.28},{"g":"Cd8a","c":2,"v":0.01},{"g":"Cd8a","c":3,"v":0.14},{"g":"Cd8a","c":4,"v":0.62},{"g":"Cd8a","c":5,"v":0.5},{"g":"Cd8a","c":6,"v":1},{"g":"Cd8a","c":7,"v":0.98},{"g":"Cd8a","c":8,"v":0.26},{"g":"Zbtb7a","c":1,"v":0.98},{"g":"Zbtb7a","c":2,"v":0.62},{"g":"Zbtb7a","c":3,"v":0.82},{"g":"Zbtb7a","c":4,"v":0.42},{"g":"Zbtb7a","c":5,"v":0.6},{"g":"Zbtb7a","c":6,"v":1},{"g":"Zbtb7a","c":7,"v":0.56},{"g":"Zbtb7a","c":8,"v":0.98},{"g":"Cd3g","c":1,"v":0.94},{"g":"Cd3g","c":2,"v":0.84},{"g":"Cd3g","c":3,"v":0.72},{"g":"Cd3g","c":4,"v":0.98},{"g":"Cd3g","c":5,"v":0.98},{"g":"Cd3g","c":6,"v":1},{"g":"Cd3g","c":7,"v":0.72},{"g":"Cd3g","c":8,"v":0.8},{"g":"Cd27","c":1,"v":0.5},{"g":"Cd27","c":2,"v":0.5},{"g":"Cd27","c":3,"v":0.26},{"g":"Cd27","c":4,"v":0.5},{"g":"Cd27","c":5,"v":1},{"g":"Cd27","c":6,"v":0.76},{"g":"Cd27","c":7,"v":0.1},{"g":"Cd27","c":8,"v":0.36},{"g":"Sox13","c":1,"v":0.05},{"g":"Sox13","c":2,"v":0.02},{"g":"Sox13","c":3,"v":0.02},{"g":"Sox13","c":4,"v":0.14},{"g":"Sox13","c":5,"v":1},{"g":"Sox13","c":6,"v":0.14},{"g":"Sox13","c":7,"v":0.46},{"g":"Sox13","c":8,"v":0.06},{"g":"Myb","c":1,"v":0.74},{"g":"Myb","c":2,"v":0.42},{"g":"Myb","c":3,"v":0.16},{"g":"Myb","c":4,"v":0.42},{"g":"Myb","c":5,"v":1},{"g":"Myb","c":6,"v":0.36},{"g":"Myb","c":7,"v":0.34},{"g":"Myb","c":8,"v":0.16},{"g":"Tnfsf11","c":1,"v":0.26},{"g":"Tnfsf11","c":2,"v":0.5},{"g":"Tnfsf11","c":3,"v":0.12},{"g":"Tnfsf11","c":4,"v":0.48},{"g":"Tnfsf11","c":5,"v":1},{"g":"Tnfsf11","c":6,"v":0.4},{"g":"Tnfsf11","c":7,"v":0.26},{"g":"Tnfsf11","c":8,"v":0.44},{"g":"Cd24a","c":1,"v":0.98},{"g":"Cd24a","c":2,"v":0.6},{"g":"Cd24a","c":3,"v":0.08},{"g":"Cd24a","c":4,"v":0.9},{"g":"Cd24a","c":5,"v":1},{"g":"Cd24a","c":6,"v":0.42},{"g":"Cd24a","c":7,"v":0.07},{"g":"Cd24a","c":8,"v":0.32},{"g":"Tox","c":1,"v":0.64},{"g":"Tox","c":2,"v":0.98},{"g":"Tox","c":3,"v":0.5},{"g":"Tox","c":4,"v":1},{"g":"Tox","c":5,"v":0.72},{"g":"Tox","c":6,"v":0.55},{"g":"Tox","c":7,"v":0.74},{"g":"Tox","c":8,"v":0.72},{"g":"Ccr7","c":1,"v":0.01},{"g":"Ccr7","c":2,"v":0.03},{"g":"Ccr7","c":3,"v":0.03},{"g":"Ccr7","c":4,"v":1},{"g":"Ccr7","c":5,"v":0.36},{"g":"Ccr7","c":6,"v":0.46},{"g":"Ccr7","c":7,"v":0.02},{"g":"Ccr7","c":8,"v":0.05},{"g":"TRA_TOTAL","c":1,"v":0.01},{"g":"TRA_TOTAL","c":2,"v":0.01},{"g":"TRA_TOTAL","c":3,"v":0.03},{"g":"TRA_TOTAL","c":4,"v":1},{"g":"TRA_TOTAL","c":5,"v":0.07},{"g":"TRA_TOTAL","c":6,"v":0.06},{"g":"TRA_TOTAL","c":7,"v":0.16},{"g":"TRA_TOTAL","c":8,"v":0.01},{"g":"TRB_TOTAL","c":1,"v":0.01},{"g":"TRB_TOTAL","c":2,"v":0.01},{"g":"TRB_TOTAL","c":3,"v":0.01},{"g":"TRB_TOTAL","c":4,"v":1},{"g":"TRB_TOTAL","c":5,"v":0.03},{"g":"TRB_TOTAL","c":6,"v":0.12},{"g":"TRB_TOTAL","c":7,"v":0.02},{"g":"TRB_TOTAL","c":8,"v":0.02},{"g":"Cd4","c":1,"v":0.01},{"g":"Cd4","c":2,"v":0.25},{"g":"Cd4","c":3,"v":0.05},{"g":"Cd4","c":4,"v":1},{"g":"Cd4","c":5,"v":0.06},{"g":"Cd4","c":6,"v":0.06},{"g":"Cd4","c":7,"v":0.32},{"g":"Cd4","c":8,"v":0.07},{"g":"Klrb1c","c":1,"v":0.01},{"g":"Klrb1c","c":2,"v":0.01},{"g":"Klrb1c","c":3,"v":1},{"g":"Klrb1c","c":4,"v":0.01},{"g":"Klrb1c","c":5,"v":0.01},{"g":"Klrb1c","c":6,"v":0.16},{"g":"Klrb1c","c":7,"v":0.01},{"g":"Klrb1c","c":8,"v":0.01},{"g":"Klrc1","c":1,"v":0.01},{"g":"Klrc1","c":2,"v":0.06},{"g":"Klrc1","c":3,"v":1},{"g":"Klrc1","c":4,"v":0.01},{"g":"Klrc1","c":5,"v":0.01},{"g":"Klrc1","c":6,"v":0.26},{"g":"Klrc1","c":7,"v":0.01},{"g":"Klrc1","c":8,"v":0.01},{"g":"Ifng","c":1,"v":0.01},{"g":"Ifng","c":2,"v":0.1},{"g":"Ifng","c":3,"v":1},{"g":"Ifng","c":4,"v":0.01},{"g":"Ifng","c":5,"v":0.01},{"g":"Ifng","c":6,"v":0.03},{"g":"Ifng","c":7,"v":0.01},{"g":"Ifng","c":8,"v":0.24},{"g":"Klrk1","c":1,"v":0.01},{"g":"Klrk1","c":2,"v":0.16},{"g":"Klrk1","c":3,"v":1},{"g":"Klrk1","c":4,"v":0.01},{"g":"Klrk1","c":5,"v":0.01},{"g":"Klrk1","c":6,"v":0.03},{"g":"Klrk1","c":7,"v":0.03},{"g":"Klrk1","c":8,"v":0.14},{"g":"Il2rb","c":1,"v":0.01},{"g":"Il2rb","c":2,"v":0.4},{"g":"Il2rb","c":3,"v":1},{"g":"Il2rb","c":4,"v":0.28},{"g":"Il2rb","c":5,"v":0.05},{"g":"Il2rb","c":6,"v":0.55},{"g":"Il2rb","c":7,"v":0.52},{"g":"Il2rb","c":8,"v":0.26},{"g":"Tbx21","c":1,"v":0.14},{"g":"Tbx21","c":2,"v":0.38},{"g":"Tbx21","c":3,"v":1},{"g":"Tbx21","c":4,"v":0.01},{"g":"Tbx21","c":5,"v":0.01},{"g":"Tbx21","c":6,"v":0.28},{"g":"Tbx21","c":7,"v":0.01},{"g":"Tbx21","c":8,"v":0.06},{"g":"Eomes","c":1,"v":0.01},{"g":"Eomes","c":2,"v":0.47},{"g":"Eomes","c":3,"v":1},{"g":"Eomes","c":4,"v":0.01},{"g":"Eomes","c":5,"v":0.01},{"g":"Eomes","c":6,"v":0.14},{"g":"Eomes","c":7,"v":0.01},{"g":"Eomes","c":8,"v":0.01},{"g":"Zbtb16","c":1,"v":0.76},{"g":"Zbtb16","c":2,"v":1},{"g":"Zbtb16","c":3,"v":0.42},{"g":"Zbtb16","c":4,"v":0.08},{"g":"Zbtb16","c":5,"v":0.44},{"g":"Zbtb16","c":6,"v":0.58},{"g":"Zbtb16","c":7,"v":0.38},{"g":"Zbtb16","c":8,"v":0.44},{"g":"Itgam","c":1,"v":1},{"g":"Itgam","c":2,"v":1},{"g":"Itgam","c":3,"v":0.3},{"g":"Itgam","c":4,"v":0.01},{"g":"Itgam","c":5,"v":0.01},{"g":"Itgam","c":6,"v":0.01},{"g":"Itgam","c":7,"v":0.01},{"g":"Itgam","c":8,"v":0.01},{"g":"Itga4","c":1,"v":1},{"g":"Itga4","c":2,"v":0.5},{"g":"Itga4","c":3,"v":0.24},{"g":"Itga4","c":4,"v":0.3},{"g":"Itga4","c":5,"v":0.46},{"g":"Itga4","c":6,"v":0.3},{"g":"Itga4","c":7,"v":0.16},{"g":"Itga4","c":8,"v":0.46},{"g":"Il4","c":1,"v":1},{"g":"Il4","c":2,"v":0.5},{"g":"Il4","c":3,"v":0.22},{"g":"Il4","c":4,"v":0.02},{"g":"Il4","c":5,"v":0.12},{"g":"Il4","c":6,"v":0.12},{"g":"Il4","c":7,"v":0.02},{"g":"Il4","c":8,"v":0.56},{"g":"Cd69","c":1,"v":1},{"g":"Cd69","c":2,"v":0.26},{"g":"Cd69","c":3,"v":0.44},{"g":"Cd69","c":4,"v":0.46},{"g":"Cd69","c":5,"v":0.4},{"g":"Cd69","c":6,"v":0.4},{"g":"Cd69","c":7,"v":0.74},{"g":"Cd69","c":8,"v":0.5}]
},
"layer":[
{"data":{"name":"bg"},"mark":{"type":"circle","opacity":1},"encoding":{"x":{"field":"x","type":"quantitative","axis":null,"scale":{"domain":[0,330],"range":[10,120],"zero":false,"nice":false}},"y":{"field":"y","type":"quantitative","axis":null,"scale":{"domain":[0,300],"range":[25,125],"zero":false,"nice":false}},"color":{"field":"k","type":"nominal","legend":null,"scale":{"domain":["g","d"],"range":["#d0d0d0","#3a3a3a"]}},"size":{"field":"k","type":"nominal","legend":null,"scale":{"domain":["g","d"],"range":[55,8]}}}},
{"data":{"name":"cells"},"mark":{"type":"circle","opacity":1,"size":6,"color":"#3d3d3d"},"encoding":{"x":{"field":"x","type":"quantitative","axis":null,"scale":{"domain":[0,510],"range":[207,290.8],"zero":false,"nice":false}},"y":{"field":"y","type":"quantitative","axis":null,"scale":{"domain":[0,630],"range":[20.8,127],"zero":false,"nice":false}}}},
{"data":{"name":"cells"},"mark":{"type":"circle","opacity":1,"size":28},"encoding":{"x":{"field":"x","type":"quantitative","axis":null,"scale":{"domain":[0,510],"range":[130,300],"zero":false,"nice":false}},"y":{"field":"y","type":"quantitative","axis":null,"scale":{"domain":[0,630],"range":[150,360],"zero":false,"nice":false}},"color":{"field":"d","type":"nominal","legend":null,"scale":{"domain":["P0","E18.5","E17.5","E16.5","E15.5","E14.5","E13.5","E12.5"],"range":["#000000","#4d1012","#7f1a1f","#b01c22","#e52510","#fb7a05","#fdc804","#fef208"]}}}},
{"data":{"name":"cells"},"mark":{"type":"circle","opacity":1,"size":28},"encoding":{"x":{"field":"x","type":"quantitative","axis":null,"scale":{"domain":[0,510],"range":[130,300],"zero":false,"nice":false}},"y":{"field":"y","type":"quantitative","axis":null,"scale":{"domain":[0,630],"range":[390,600],"zero":false,"nice":false}},"color":{"field":"c","type":"ordinal","legend":null,"scale":{"domain":[1,2,3,4,5,6,7,8],"range":["#F8766D","#CD9600","#7CAE00","#00BE67","#00BFC4","#00A9FF","#C77CFF","#FF61CC"]}}}},
{"data":{"name":"days"},"mark":{"type":"circle","opacity":1,"size":36},"encoding":{"x":{"datum":0,"type":"quantitative","axis":null,"scale":{"domain":[0,1],"range":[61.7,69],"zero":false,"nice":false}},"y":{"field":"d","type":"nominal","sort":null,"axis":null,"scale":{"type":"point","padding":0,"range":[200,282]}},"color":{"field":"d","type":"nominal","legend":null,"scale":{"domain":["P0","E18.5","E17.5","E16.5","E15.5","E14.5","E13.5","E12.5"],"range":["#000000","#4d1012","#7f1a1f","#b01c22","#e52510","#fb7a05","#fdc804","#fef208"]}}}},
{"data":{"name":"days"},"mark":{"type":"text","align":"left","baseline":"middle","fontSize":9.5,"color":"#222"},"encoding":{"x":{"datum":1,"type":"quantitative","axis":null,"scale":{"domain":[0,1],"range":[61.7,69],"zero":false,"nice":false}},"y":{"field":"d","type":"nominal","sort":null,"axis":null,"scale":{"type":"point","padding":0,"range":[200,282]}},"text":{"field":"d"}}},
{"data":{"name":"cl"},"mark":{"type":"circle","opacity":1,"size":36},"encoding":{"x":{"datum":0,"type":"quantitative","axis":null,"scale":{"domain":[0,1],"range":[20.7,27.7],"zero":false,"nice":false}},"y":{"field":"c","type":"quantitative","axis":null,"scale":{"domain":[1,8],"range":[447,529],"zero":false,"nice":false}},"color":{"field":"c","type":"ordinal","legend":null,"scale":{"domain":[1,2,3,4,5,6,7,8],"range":["#F8766D","#CD9600","#7CAE00","#00BE67","#00BFC4","#00A9FF","#C77CFF","#FF61CC"]}}}},
{"data":{"name":"cl"},"mark":{"type":"text","align":"left","baseline":"middle","fontSize":9.5,"color":"#222"},"encoding":{"x":{"datum":1,"type":"quantitative","axis":null,"scale":{"domain":[0,1],"range":[20.7,27.7],"zero":false,"nice":false}},"y":{"field":"c","type":"quantitative","axis":null,"scale":{"domain":[1,8],"range":[447,529],"zero":false,"nice":false}},"text":{"field":"lab"}}},
{"data":{"values":[{"lo":0.83,"hi":3.27},{"lo":3.98,"hi":7.1}]},"mark":{"type":"rule","color":"#111","strokeWidth":1.2},"encoding":{"x":{"datum":1,"type":"quantitative","axis":null,"scale":{"domain":[0,1],"range":[57.3,62.7],"zero":false,"nice":false}},"y":{"field":"lo","type":"quantitative","axis":null,"scale":{"domain":[1,8],"range":[447,529],"zero":false,"nice":false}},"y2":{"field":"hi"}}},
{"data":{"values":[{"r":0.83},{"r":3.27},{"r":3.98},{"r":7.1}]},"mark":{"type":"rule","color":"#111","strokeWidth":1.2},"encoding":{"x":{"datum":0,"type":"quantitative","axis":null,"scale":{"domain":[0,1],"range":[57.3,62.7],"zero":false,"nice":false}},"x2":{"datum":1},"y":{"field":"r","type":"quantitative","axis":null,"scale":{"domain":[1,8],"range":[447,529],"zero":false,"nice":false}}}},
{"data":{"values":[{"r":8}]},"mark":{"type":"rule","color":"#111","strokeWidth":1},"encoding":{"x":{"datum":0,"type":"quantitative","axis":null,"scale":{"domain":[0,1],"range":[54,72.7],"zero":false,"nice":false}},"x2":{"datum":1},"y":{"field":"r","type":"quantitative","axis":null,"scale":{"domain":[1,8],"range":[447,529],"zero":false,"nice":false}}}},
{"data":{"values":[{"from":0,"to":1}]},"mark":{"type":"rule","color":"#111","strokeWidth":1.2},"encoding":{"x":{"field":"from","type":"quantitative","axis":null,"scale":{"domain":[0,1],"range":[116,170],"zero":false,"nice":false}},"x2":{"field":"to"},"y":{"datum":0,"type":"quantitative","axis":null,"scale":{"domain":[0,1],"range":[74,75],"zero":false,"nice":false}}}},
{"data":{"values":[{"to":1}]},"mark":{"type":"point","filled":true,"opacity":1,"color":"#111","size":196,"shape":"M-1,-0.65L1,0L-1,0.65Z"},"encoding":{"x":{"field":"to","type":"quantitative","axis":null,"scale":{"domain":[0,1],"range":[116,174],"zero":false,"nice":false}},"y":{"datum":0,"type":"quantitative","axis":null,"scale":{"domain":[0,1],"range":[74,75],"zero":false,"nice":false}}}},
{"data":{"values":[{"t":"BLD5 (NCL)","i":0},{"t":"n = 769 cells","i":1},{"t":"Developmental day","i":2},{"t":"NCL cluster","i":3},{"t":"NCL1","i":4},{"t":"NCL1","i":5},{"t":"0","i":6},{"t":"Max","i":7}]},"mark":{"type":"text","align":"left","baseline":"middle","fontSize":10.5,"color":"#222"},"encoding":{"x":{"field":"i","type":"quantitative","axis":null,"scale":{"domain":[0,1,2,3,4,5,6,7],"range":[27,119,26,26,365,606,528,604],"zero":false,"nice":false}},"y":{"field":"i","type":"quantitative","axis":null,"scale":{"domain":[0,1,2,3,4,5,6,7],"range":[17.5,94,154,394,39,39,603,603],"zero":false,"nice":false}},"text":{"field":"t"}}},
{"data":{"values":[{"t":"ILC1-like","i":0},{"t":"T cells","i":1},{"t":"ILC2-like","i":2}]},"mark":{"type":"text","align":"left","baseline":"middle","fontSize":9.5,"color":"#222"},"encoding":{"x":{"field":"i","type":"quantitative","axis":null,"scale":{"domain":[0,1,2],"range":[72,72,76.7],"zero":false,"nice":false}},"y":{"field":"i","type":"quantitative","axis":null,"scale":{"domain":[0,1,2],"range":[458,500,529],"zero":false,"nice":false}},"text":{"field":"t"}}},
{"data":{"values":[{"t":"Subset and","i":0},{"t":"reanalyze","i":1}]},"mark":{"type":"text","align":"left","baseline":"middle","fontSize":10.5,"fontStyle":"italic","color":"#222"},"encoding":{"x":{"field":"i","type":"quantitative","axis":null,"scale":{"domain":[0,1],"range":[123,128],"zero":false,"nice":false}},"y":{"field":"i","type":"quantitative","axis":null,"scale":{"domain":[0,1],"range":[45,58],"zero":false,"nice":false}},"text":{"field":"t"}}},
{"data":{"values":[{"t":"A","i":0},{"t":"B","i":1},{"t":"C","i":2},{"t":"D","i":3}]},"mark":{"type":"text","align":"left","baseline":"middle","fontSize":12,"fontWeight":"bold","color":"#000"},"encoding":{"x":{"field":"i","type":"quantitative","axis":null,"scale":{"domain":[0,1,2,3],"range":[7,7,7,311],"zero":false,"nice":false}},"y":{"field":"i","type":"quantitative","axis":null,"scale":{"domain":[0,1,2,3],"range":[12,137,371,12],"zero":false,"nice":false}},"text":{"field":"t"}}},
{"data":{"values":[{"t":"Log","i":0},{"t":"normalized expression","i":1}]},"mark":{"type":"text","align":"left","baseline":"middle","fontSize":13,"color":"#111"},"encoding":{"x":{"field":"i","type":"quantitative","axis":null,"scale":{"domain":[0,1],"range":[499,529],"zero":false,"nice":false}},"y":{"field":"i","type":"quantitative","axis":null,"scale":{"domain":[0,1],"range":[583,583],"zero":false,"nice":false}},"text":{"field":"t"}}},
{"data":{"values":[{"t":"2"}]},"mark":{"type":"text","align":"left","baseline":"middle","fontSize":8,"color":"#111"},"encoding":{"x":{"datum":0,"type":"quantitative","axis":null,"scale":{"domain":[0,1],"range":[520.5,521],"zero":false,"nice":false}},"y":{"datum":0,"type":"quantitative","axis":null,"scale":{"domain":[0,1],"range":[588,589],"zero":false,"nice":false}},"text":{"field":"t"}}},
{"data":{"values":[{"v":0},{"v":0.07},{"v":0.14},{"v":0.21},{"v":0.28},{"v":0.35},{"v":0.42},{"v":0.5},{"v":0.58},{"v":0.65},{"v":0.72},{"v":0.79},{"v":0.86},{"v":0.93},{"v":1}]},"mark":{"type":"rect"},"encoding":{"x":{"field":"v","type":"ordinal","axis":null,"scale":{"type":"band","paddingInner":0,"paddingOuter":0,"range":[528,617]}},"y":{"datum":0,"type":"quantitative","axis":null,"scale":{"domain":[0,1],"range":[590,597],"zero":false,"nice":false}},"y2":{"datum":1},"color":{"field":"v","type":"quantitative","legend":null,"scale":{"domain":[0,0.1,0.2,0.35,0.5,0.75,1],"range":["#0020f5","#0050ff","#3070ff","#8494e2","#c6c6c6","#e88aa0","#e5004e"],"interpolate":"rgb"}}}},
{"data":{"name":"den"},"mark":{"type":"rule","color":"#333","strokeWidth":1},"encoding":{"x":{"field":"a","type":"quantitative","axis":null,"scale":{"domain":[0.5,8.5],"range":[380,536],"zero":false,"nice":false}},"x2":{"field":"b"},"y":{"field":"h","type":"quantitative","axis":null,"scale":{"domain":[0,40],"range":[33.3,20],"zero":false,"nice":false}},"y2":{"field":"k"}}},
{"data":{"name":"den"},"mark":{"type":"rule","color":"#333","strokeWidth":1},"encoding":{"x":{"field":"a","type":"quantitative","axis":null,"scale":{"domain":[0.5,8.5],"range":[623.3,777.7],"zero":false,"nice":false}},"x2":{"field":"b"},"y":{"field":"h","type":"quantitative","axis":null,"scale":{"domain":[0,40],"range":[33.3,20],"zero":false,"nice":false}},"y2":{"field":"k"}}},
{"data":{"name":"cl"},"transform":[{"filter":"datum.c>1"}],"mark":{"type":"text","align":"center","baseline":"middle","fontSize":10.5,"color":"#222"},"encoding":{"x":{"field":"c","type":"ordinal","axis":null,"scale":{"type":"band","domain":[1,2,3,4,5,6,7,8],"paddingInner":0,"paddingOuter":0,"range":[380,536]}},"y":{"datum":0,"type":"quantitative","axis":null,"scale":{"domain":[0,1],"range":[39,40],"zero":false,"nice":false}},"text":{"field":"c","type":"ordinal"}}},
{"data":{"name":"cl"},"transform":[{"filter":"datum.c>1"}],"mark":{"type":"text","align":"center","baseline":"middle","fontSize":10.5,"color":"#222"},"encoding":{"x":{"field":"c","type":"ordinal","axis":null,"scale":{"type":"band","domain":[1,2,3,4,5,6,7,8],"paddingInner":0,"paddingOuter":0,"range":[623.3,777.7]}},"y":{"datum":0,"type":"quantitative","axis":null,"scale":{"domain":[0,1],"range":[39,40],"zero":false,"nice":false}},"text":{"field":"c","type":"ordinal"}}},
{"data":{"name":"cl"},"mark":{"type":"rect"},"encoding":{"x":{"field":"c","type":"ordinal","axis":null,"scale":{"type":"band","paddingInner":0,"paddingOuter":0,"range":[380,536]}},"y":{"datum":0,"type":"quantitative","axis":null,"scale":{"domain":[0,1],"range":[46,53],"zero":false,"nice":false}},"y2":{"datum":1},"color":{"field":"c","type":"ordinal","legend":null,"scale":{"domain":[1,2,3,4,5,6,7,8],"range":["#F8766D","#CD9600","#7CAE00","#00BE67","#00BFC4","#00A9FF","#C77CFF","#FF61CC"]}}}},
{"data":{"name":"cl"},"mark":{"type":"rect"},"encoding":{"x":{"field":"c","type":"ordinal","axis":null,"scale":{"type":"band","paddingInner":0,"paddingOuter":0,"range":[623.3,777.7]}},"y":{"datum":0,"type":"quantitative","axis":null,"scale":{"domain":[0,1],"range":[46,53],"zero":false,"nice":false}},"y2":{"datum":1},"color":{"field":"c","type":"ordinal","legend":null,"scale":{"domain":[1,2,3,4,5,6,7,8],"range":["#F8766D","#CD9600","#7CAE00","#00BE67","#00BFC4","#00A9FF","#C77CFF","#FF61CC"]}}}},
{"data":{"values":[{"t":"strip"}]},"mark":{"type":"rect","color":"#cccccc"},"encoding":{"x":{"datum":0,"type":"quantitative","axis":null,"scale":{"domain":[0,1],"range":[536,550],"zero":false,"nice":false}},"x2":{"datum":1},"y":{"datum":0,"type":"quantitative","axis":null,"scale":{"domain":[0,1],"range":[55,572],"zero":false,"nice":false}},"y2":{"datum":1}}},
{"data":{"values":[{"t":"strip"}]},"mark":{"type":"rect","color":"#cccccc"},"encoding":{"x":{"datum":0,"type":"quantitative","axis":null,"scale":{"domain":[0,1],"range":[777.7,792],"zero":false,"nice":false}},"x2":{"datum":1},"y":{"datum":0,"type":"quantitative","axis":null,"scale":{"domain":[0,1],"range":[55,572],"zero":false,"nice":false}},"y2":{"datum":1}}},
{"data":{"values":[{"t":"Data driven"}]},"mark":{"type":"text","angle":270,"align":"center","baseline":"middle","fontSize":8.5,"fontWeight":"bold","fontStyle":"italic","color":"#111"},"encoding":{"x":{"datum":0.5,"type":"quantitative","axis":null,"scale":{"domain":[0,1],"range":[536,550],"zero":false,"nice":false}},"y":{"datum":0.445,"type":"quantitative","axis":null,"scale":{"domain":[0,1],"range":[55,572],"zero":false,"nice":false}},"text":{"field":"t"}}},
{"data":{"values":[{"t":"Curated"}]},"mark":{"type":"text","angle":270,"align":"center","baseline":"middle","fontSize":8.5,"fontWeight":"bold","fontStyle":"italic","color":"#111"},"encoding":{"x":{"datum":0.5,"type":"quantitative","axis":null,"scale":{"domain":[0,1],"range":[777.7,792],"zero":false,"nice":false}},"y":{"datum":0.445,"type":"quantitative","axis":null,"scale":{"domain":[0,1],"range":[55,572],"zero":false,"nice":false}},"text":{"field":"t"}}},
{"data":{"name":"h1"},"mark":{"type":"rect"},"encoding":{"x":{"field":"c","type":"ordinal","axis":null,"scale":{"type":"band","paddingInner":0,"paddingOuter":0,"range":[380,536]}},"y":{"field":"g","type":"nominal","sort":null,"scale":{"type":"band","paddingInner":0,"paddingOuter":0,"range":[55,572]},"axis":{"orient":"left","offset":-378,"title":null,"grid":false,"domainColor":"#000","domainWidth":1.5,"tickColor":"#000","tickSize":2,"labelColor":"#111","labelFontSize":10.5,"labelFontStyle":"italic","labelPadding":3,"labelOverlap":false}},"color":{"field":"v","type":"quantitative","legend":null,"scale":{"domain":[0,0.1,0.2,0.35,0.5,0.75,1],"range":["#0020f5","#0050ff","#3070ff","#8494e2","#c6c6c6","#e88aa0","#e5004e"],"interpolate":"rgb"}}}},
{"data":{"name":"h2"},"mark":{"type":"rect"},"encoding":{"x":{"field":"c","type":"ordinal","axis":null,"scale":{"type":"band","paddingInner":0,"paddingOuter":0,"range":[623.3,777.7]}},"y":{"field":"g","type":"nominal","sort":null,"scale":{"type":"band","paddingInner":0,"paddingOuter":0,"range":[55,572]},"axis":{"orient":"left","offset":-622,"title":null,"grid":false,"domainColor":"#333","domainWidth":1.5,"tickColor":"#333","tickSize":2,"labelColor":"#111","labelFontSize":10.5,"labelFontStyle":{"condition":{"test":"indexof(datum.value,'TOTAL')>=0","value":"normal"},"value":"italic"},"labelPadding":3,"labelOverlap":false}},"color":{"field":"v","type":"quantitative","legend":null,"scale":{"domain":[0,0.1,0.2,0.35,0.5,0.75,1],"range":["#0020f5","#0050ff","#3070ff","#8494e2","#c6c6c6","#e88aa0","#e5004e"],"interpolate":"rgb"}}}}
],
"resolve":{"scale":{"x":"independent","y":"independent","color":"independent","size":"independent"}}}
